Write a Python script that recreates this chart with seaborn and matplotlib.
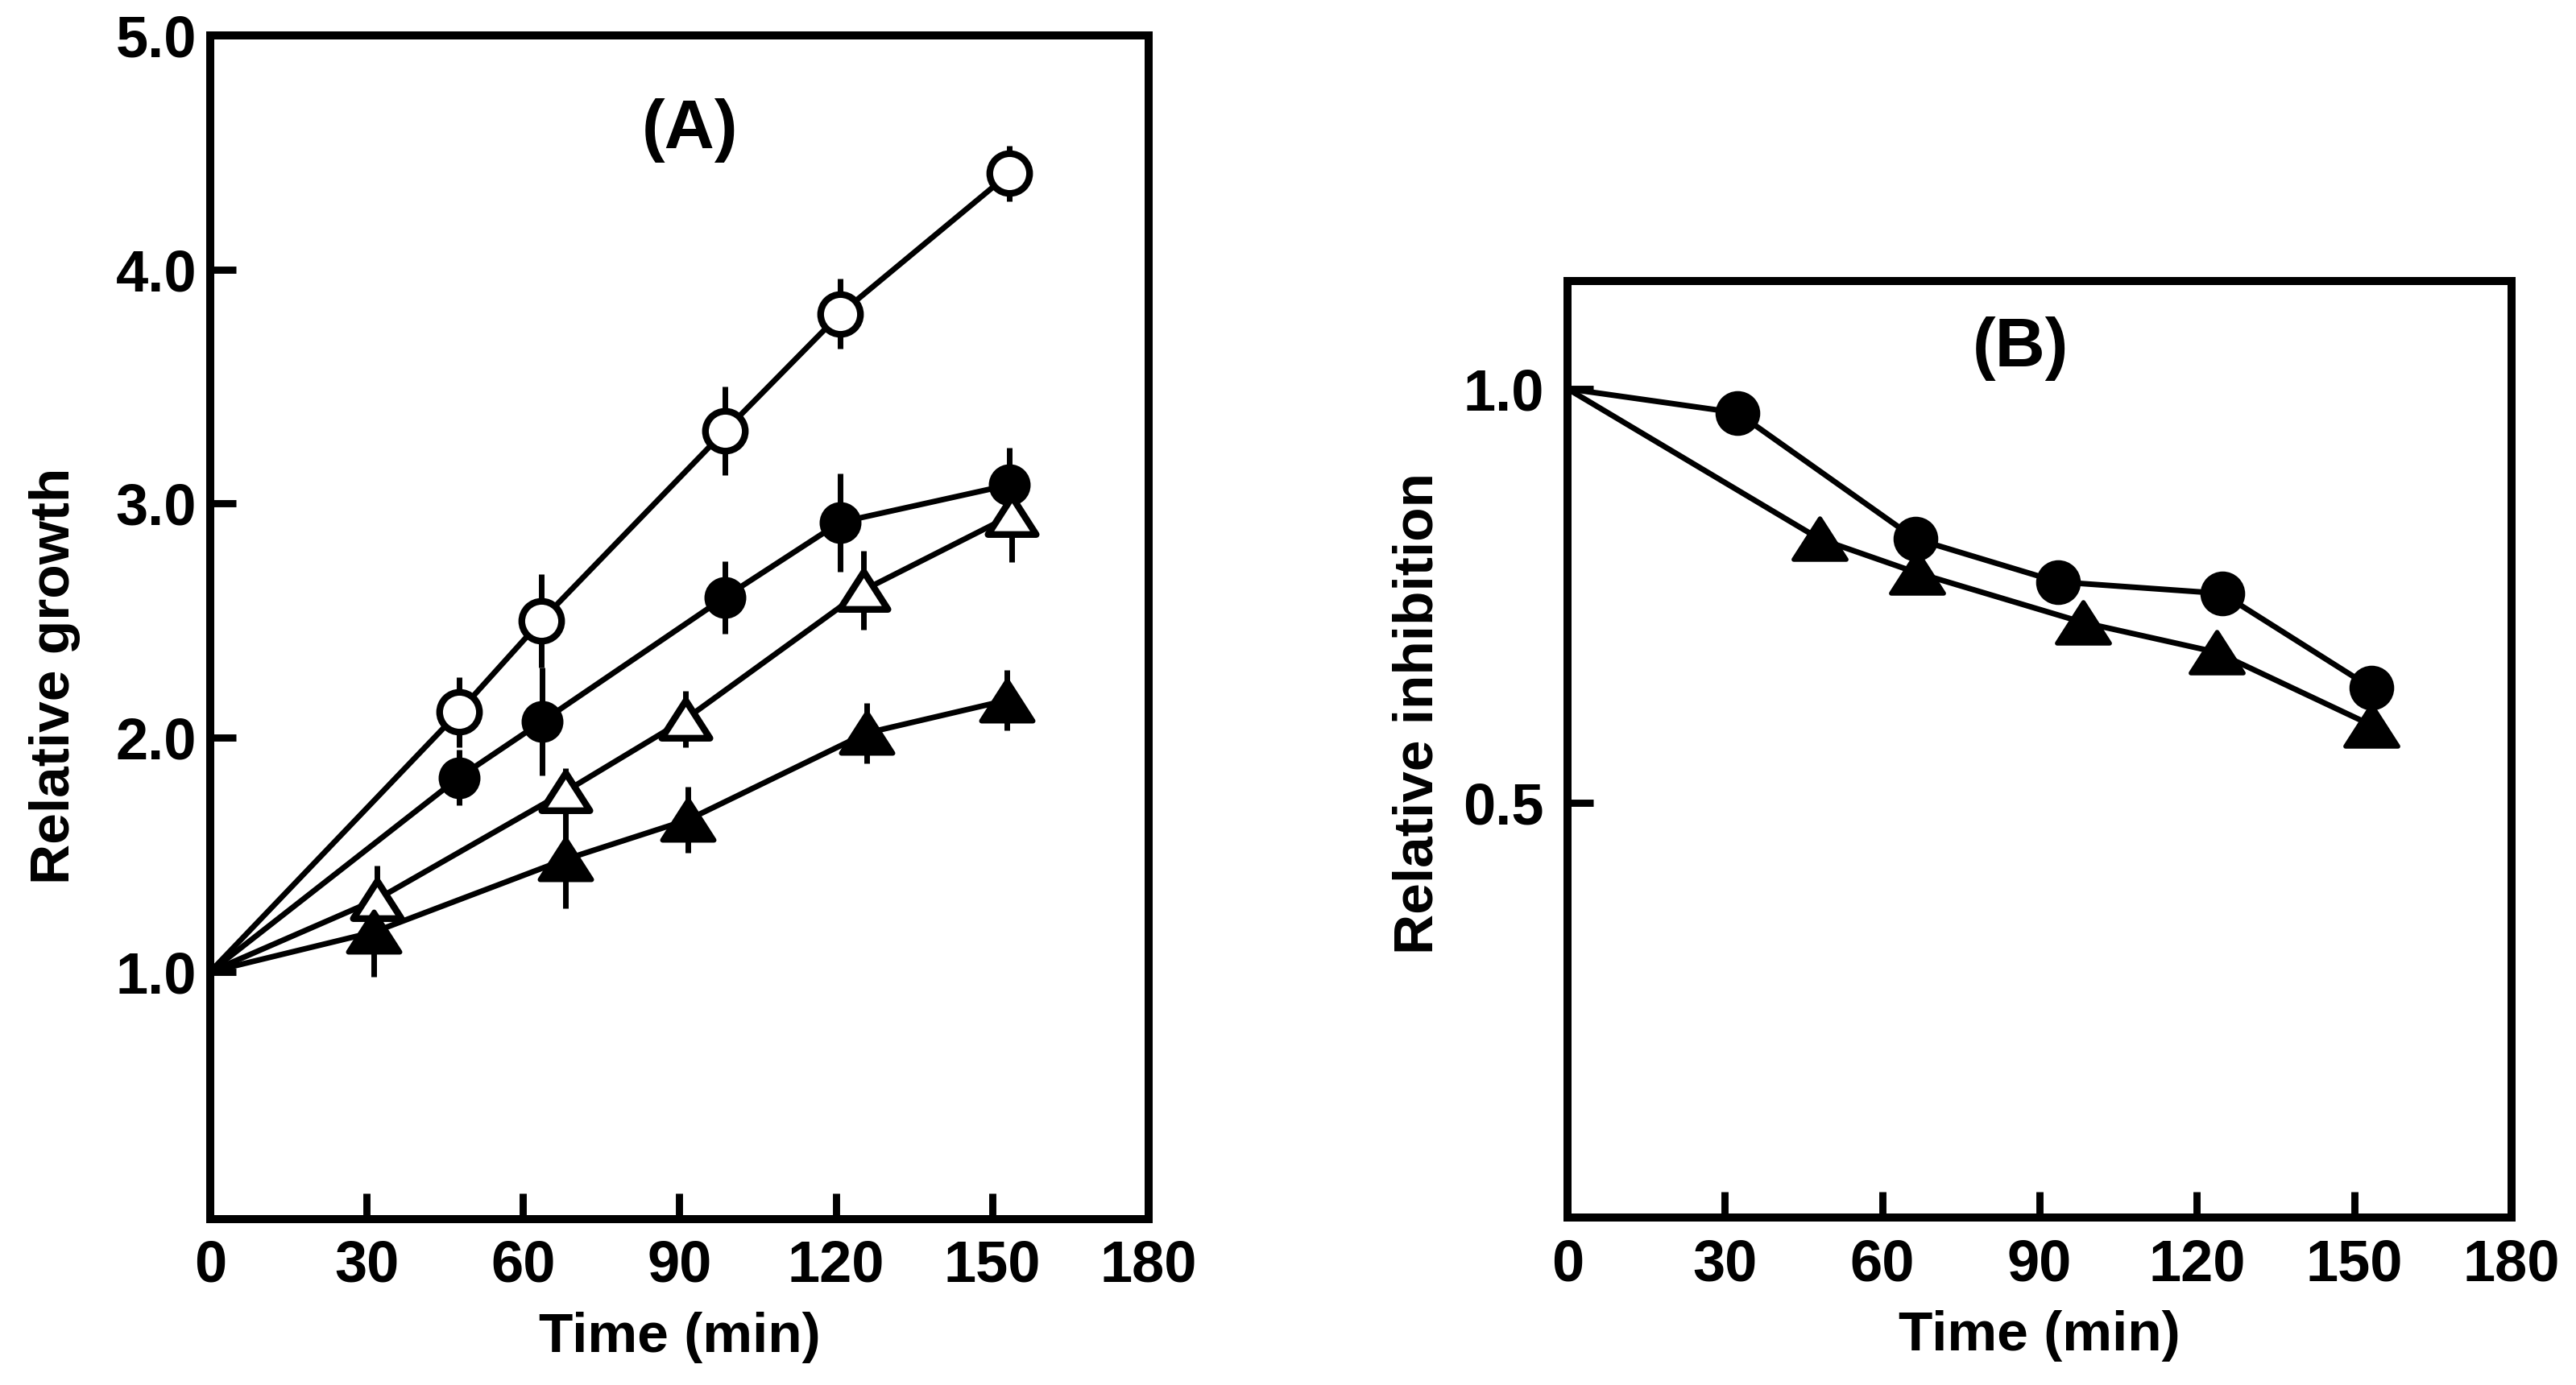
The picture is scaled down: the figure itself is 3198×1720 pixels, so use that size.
import matplotlib
matplotlib.use("Agg")
import matplotlib.pyplot as plt
import numpy as np
import seaborn as sns

from matplotlib.path import Path
from matplotlib.ticker import FormatStrFormatter

# ---- panel A: relative growth, all series start at (0, 1.0) ----
time_a_open_circle = [0, 47.7, 63.5, 98.7, 120.8, 153.3]
growth_open_circle = [1.0, 2.11, 2.50, 3.31, 3.81, 4.41]
err_open_circle = [0, 0.15, 0.20, 0.19, 0.15, 0.12]

time_a_filled_circle = [0, 47.7, 63.7, 98.7, 120.8, 153.3]
growth_filled_circle = [1.0, 1.83, 2.07, 2.60, 2.92, 3.08]
err_filled_circle = [0, 0.12, 0.23, 0.155, 0.21, 0.16]

time_a_open_triangle = [0, 32.0, 68.1, 91.2, 125.3, 153.7]
growth_open_triangle = [1.0, 1.31, 1.77, 2.08, 2.63, 2.95]
err_open_triangle = [0, 0.145, 0.10, 0.12, 0.17, 0.20]

time_a_filled_triangle = [0, 31.4, 68.1, 91.7, 125.9, 152.8]
growth_filled_triangle = [1.0, 1.17, 1.48, 1.65, 2.02, 2.16]
err_filled_triangle = [0, 0.19, 0.21, 0.14, 0.13, 0.13]

# ---- panel B: relative inhibition ----
time_b_circle = [0, 32.4, 66.3, 93.5, 124.8, 153.3]
inhib_circle = [1.0, 0.971, 0.819, 0.767, 0.753, 0.639]

time_b_triangle = [0, 48.0, 66.6, 98.3, 123.8, 153.3]
inhib_triangle = [1.0, 0.819, 0.778, 0.718, 0.682, 0.594]

x_ticks = [0, 30, 60, 90, 120, 150, 180]
y_ticks_a = [1.0, 2.0, 3.0, 4.0, 5.0]
y_ticks_b = [0.5, 1.0]


def _triangle_marker(ratio=0.78):
    h = 0.5 * ratio
    verts = [(0, h), (-0.5, -h), (0.5, -h), (0, h)]
    codes = [Path.MOVETO, Path.LINETO, Path.LINETO, Path.CLOSEPOLY]
    return Path(verts, codes)


TRIANGLE = _triangle_marker()


def _plot_series(ax, x, y, err, marker, face, size, edge, z):
    sns.lineplot(x=x, y=y, ax=ax, color="black", linewidth=2.5,
                 estimator=None, sort=False, zorder=2)
    if err is not None:
        ax.errorbar(x[1:], y[1:], yerr=err[1:], fmt="none", ecolor="black",
                    elinewidth=2.5, capsize=0, zorder=2.5)
    sns.scatterplot(x=x[1:], y=y[1:], ax=ax, marker=marker, s=size ** 2,
                    color=face, edgecolor="black", linewidth=edge,
                    zorder=z, legend=False)


def _style_axes(ax, ylim, yticks, ylabel, ypad):
    ax.set_xlim(0, 180)
    ax.set_ylim(*ylim)
    ax.set_xticks(x_ticks)
    ax.set_yticks(yticks)
    ax.yaxis.set_major_formatter(FormatStrFormatter("%.1f"))
    ax.tick_params(direction="in", length=11.5, width=3.2, labelsize=26,
                   colors="black")
    ax.tick_params(axis="x", pad=9)
    ax.tick_params(axis="y", pad=ypad)
    for s in ax.spines.values():
        s.set_visible(True)
        s.set_linewidth(3.6)
        s.set_color("black")
    ax.set_xlabel("Time (min)", fontsize=25, fontweight="bold", labelpad=8,
                  color="black")
    ax.set_ylabel(ylabel, fontsize=25, fontweight="bold", color="black")


sns.set_theme(style="ticks")
plt.rcParams["font.family"] = ["Liberation Sans", "DejaVu Sans"]
plt.rcParams["font.weight"] = "bold"
plt.rcParams["axes.labelweight"] = "bold"
plt.rcParams["text.color"] = "black"
plt.rcParams["axes.labelcolor"] = "black"

fig = plt.figure(figsize=(15.99, 8.6), dpi=200)
fig.patch.set_facecolor("white")

# panel A
ax_a = fig.add_axes([0.0816, 0.1198, 0.3643, 0.8547])
_plot_series(ax_a, time_a_open_circle, growth_open_circle, err_open_circle,
             "o", "white", 17.8, 3.0, 3.0)
_plot_series(ax_a, time_a_filled_circle, growth_filled_circle, err_filled_circle,
             "o", "black", 16.5, 2.2, 3.1)
_plot_series(ax_a, time_a_open_triangle, growth_open_triangle, err_open_triangle,
             TRIANGLE, "white", 21.5, 3.0, 3.2)
_plot_series(ax_a, time_a_filled_triangle, growth_filled_triangle, err_filled_triangle,
             TRIANGLE, "black", 23, 2.2, 3.3)
_style_axes(ax_a, (-0.056, 5.0), y_ticks_a, "Relative growth", 6)
ax_a.yaxis.set_label_coords(-0.138, 0.459)
ax_a.text(0.511, 0.905, "(A)", transform=ax_a.transAxes, ha="center",
          va="baseline", fontsize=31, fontweight="bold", color="black")

# panel B
ax_b = fig.add_axes([0.6085, 0.1209, 0.3665, 0.6762])
_plot_series(ax_b, time_b_circle, inhib_circle, None, "o", "black", 18, 2.0, 3.0)
_plot_series(ax_b, time_b_triangle, inhib_triangle, None, TRIANGLE, "black", 23.5, 2.0, 3.1)
_style_axes(ax_b, (0, 1.13), y_ticks_b, "Relative inhibition", 10.5)
ax_b.yaxis.set_label_coords(-0.131, 0.538)
ax_b.text(0.48, 0.909, "(B)", transform=ax_b.transAxes, ha="center",
          va="baseline", fontsize=31, fontweight="bold", color="black")

fig.savefig("out.png", dpi=200, facecolor="white")
